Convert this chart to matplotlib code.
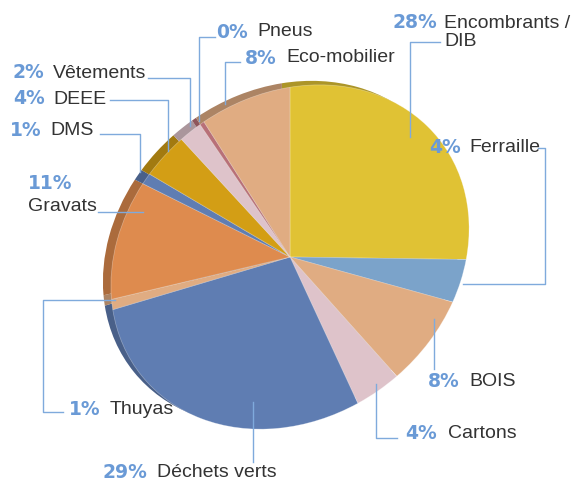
import matplotlib.pyplot as plt
import matplotlib.colors as mcolors
from matplotlib.transforms import Affine2D

# Slices, clockwise from 12 o'clock
names = ["Encombrants /\nDIB", "Ferraille", "BOIS", "Cartons", "Déchets verts",
         "Thuyas", "Gravats", "DMS", "DEEE", "Vêtements", "Pneus", "Eco-mobilier"]
values = [28, 4, 8, 4, 29, 1, 11, 1, 4, 2, 0.4, 8]
pct_labels = ["28%", "4%", "8%", "4%", "29%", "1%", "11%", "1%", "4%", "2%", "0%", "8%"]
colors = ["#E0C234", "#7BA3CA", "#E0AC82", "#DEC3CA", "#5F7DB2", "#E0AC82",
          "#DE8B4E", "#5F7DB2", "#D39E15", "#DEC3CA", "#B87078", "#E0AC82"]

W, H = 572, 481
# the pie is seen tilted: unit circle -> rotated ellipse around the apex
cx, cy = 290, 258
semi_major, semi_minor, tilt = 190, 160, 38.3
start = 56.4          # unit-circle angle that lands straight up after tilting
rim_dx, rim_dy = -8, -4

PCT_COLOR = "#6A9AD6"
TXT_COLOR = "#333333"
LINE_COLOR = "#7FAADC"
NAME_FONT = "Liberation Sans"
PCT_FONT = "DejaVu Sans"

fig = plt.figure(figsize=(W / 100, H / 100), dpi=100)
ax = fig.add_axes([0, 0, 1, 1])


def darker(c, f=0.77):
    r, g, b = mcolors.to_rgb(c)
    return (r * f, g * f, b * f)


def tilted(dx=0, dy=0):
    return (Affine2D().scale(semi_major, semi_minor).rotate_deg(tilt)
            .scale(1, -1).translate(cx + dx, cy + dy) + ax.transData)


# depth rim first, then the face
rim, _ = ax.pie(values, colors=[darker(c) for c in colors], startangle=start,
                counterclock=False, radius=1, frame=True,
                wedgeprops=dict(linewidth=0))
for w in rim:
    w.set_transform(tilted(rim_dx, rim_dy))
face, _ = ax.pie(values, colors=colors, startangle=start, counterclock=False,
                 radius=1, frame=True,
                 wedgeprops=dict(linewidth=0.5, edgecolor=(1, 1, 1, 0.35)))
for w in face:
    w.set_transform(tilted())

ax.set_aspect("auto")
ax.set_xlim(0, W)
ax.set_ylim(H, 0)
ax.axis("off")

# (pct x, name x, y) for each slice label, in pixels
label_pos = {
    "Encombrants /\nDIB": (392, 444, 23),
    "Ferraille": (429, 469, 148),
    "BOIS": (428, 469, 382),
    "Cartons": (405, 448, 434),
    "Déchets verts": (103, 157, 473),
    "Thuyas": (69, 110, 410),
    "Gravats": (28, 28, 184),
    "DMS": (10, 50, 131),
    "DEEE": (13, 53, 99),
    "Vêtements": (13, 53, 73),
    "Pneus": (216, 257, 32),
    "Eco-mobilier": (245, 286, 58),
}

for name, pct in zip(names, pct_labels):
    px, nx, y = label_pos[name]
    ax.text(px, y, pct, color=PCT_COLOR, fontsize=13.5, fontweight="bold",
            family=PCT_FONT, va="center", ha="left")
    lines = name.split("\n")
    ny = y + 23 if name == "Gravats" else y
    for i, part in enumerate(lines):
        ax.text(nx, ny + 18 * i, part, color=TXT_COLOR, fontsize=14,
                family=NAME_FONT, va="center", ha="left")

# leader lines
leaders = [
    [(410, 138), (410, 43), (440, 43)],
    [(538, 149), (545, 149), (545, 285), (463, 285)],
    [(434, 320), (434, 370)],
    [(376, 385), (376, 439), (397, 439)],
    [(253, 403), (253, 463)],
    [(115, 301), (43, 301), (43, 413), (63, 413)],
    [(98, 213), (143, 213)],
    [(100, 135), (140, 135), (140, 173)],
    [(110, 101), (168, 101), (168, 152)],
    [(148, 79), (190, 79), (190, 127)],
    [(199, 122), (199, 38), (215, 38)],
    [(225, 105), (225, 63), (240, 63)],
]
for pts in leaders:
    xs, ys = zip(*pts)
    ax.plot(xs, ys, color=LINE_COLOR, linewidth=1.0)

fig.savefig("out.png", dpi=100, facecolor="white")
